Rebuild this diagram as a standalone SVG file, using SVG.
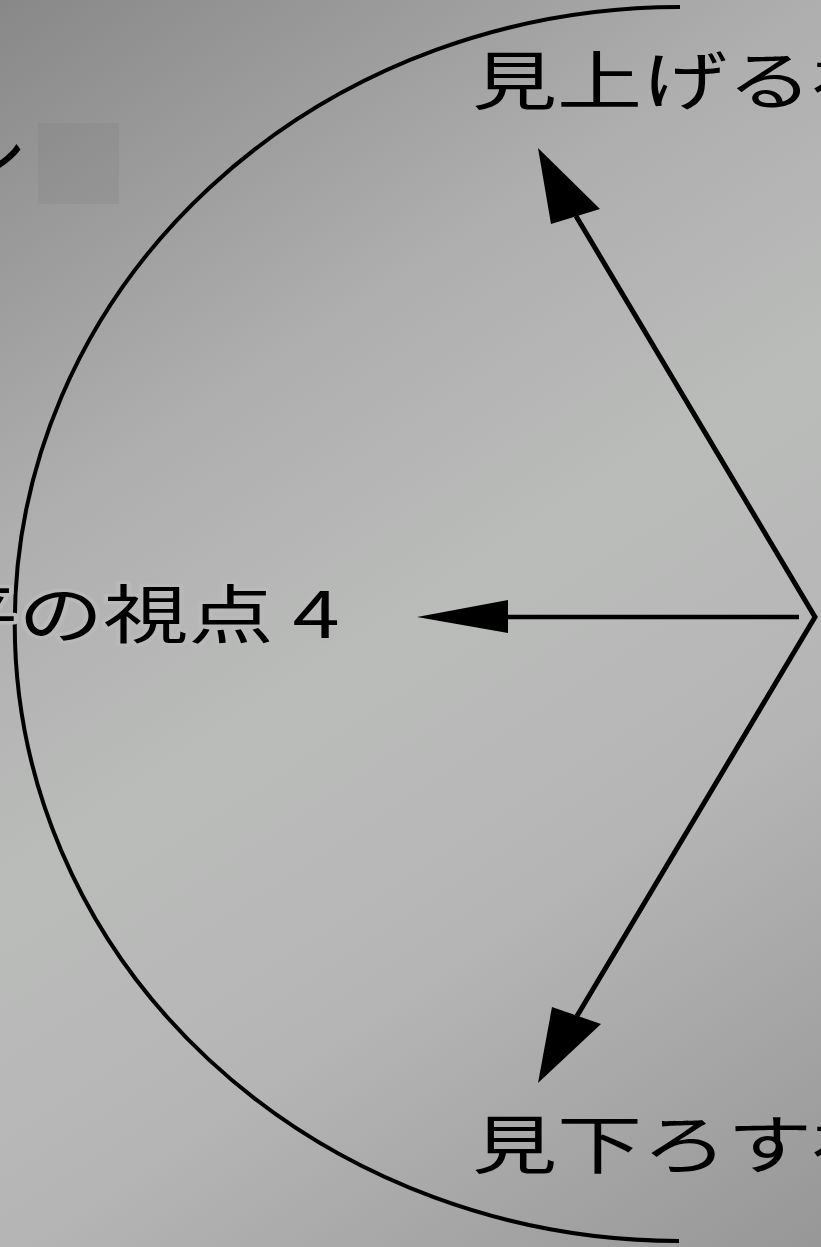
<svg xmlns="http://www.w3.org/2000/svg" width="821" height="1247" viewBox="0 0 821 1247">
  <defs>
    <linearGradient id="bg" gradientUnits="userSpaceOnUse" x1="0" y1="0" x2="821" y2="1247">
      <stop offset="0" stop-color="#888888"/>
      <stop offset="0.3" stop-color="#aeaeae"/>
      <stop offset="0.5" stop-color="#babcba"/>
      <stop offset="0.7" stop-color="#b5b5b5"/>
      <stop offset="1" stop-color="#979797"/>
    </linearGradient>
    <style>
      .lbl { font-family: "Noto Sans CJK JP", "Noto Sans", sans-serif; font-size: 64px; fill: #000; }
      .halo { stroke: #b8b9b8; stroke-width: 7px; paint-order: stroke; stroke-linejoin: round; }
      .ln { fill: none; stroke: #000; stroke-width: 5; }
      .head { fill: #000; stroke: none; }
    </style>
  </defs>
  <rect id="background" x="0" y="0" width="821" height="1247" fill="url(#bg)"/>
  <rect x="38" y="123" width="81" height="81" fill="#000" fill-opacity="0.04"/>
  <g id="arc">
    <path d="M 680 7 A 665 617 0 0 0 679 1241" fill="none" stroke="#000" stroke-width="4"/>
  </g>
  <g id="connectors">
    <polyline class="ln" points="576,216 815,617 577,1016" stroke-linejoin="miter"/>
    <polygon class="head" points="538,148 551,224 600,209"/>
    <polygon class="head" points="538,1083 552,1007 601,1024"/>
    <line x1="505" y1="617" x2="799" y2="617" stroke="#000" stroke-width="4.5"/>
    <polygon class="head" points="417,617 508,600 508,633"/>
  </g>
  <g id="label-top-left">
    <text class="lbl" transform="translate(-58,181) scale(1.33,1)">ン</text>
  </g>
  <g id="label-up">
    <text class="lbl" transform="translate(472,104) scale(1.33,1)">見上げる視点</text>
  </g>
  <g id="label-level">
    <text class="lbl halo" transform="translate(-152,638) scale(1.33,1)">水平の視点 4</text>
  </g>
  <g id="label-down">
    <text class="lbl" transform="translate(472,1168) scale(1.33,1)">見下ろす視点</text>
  </g>
</svg>
